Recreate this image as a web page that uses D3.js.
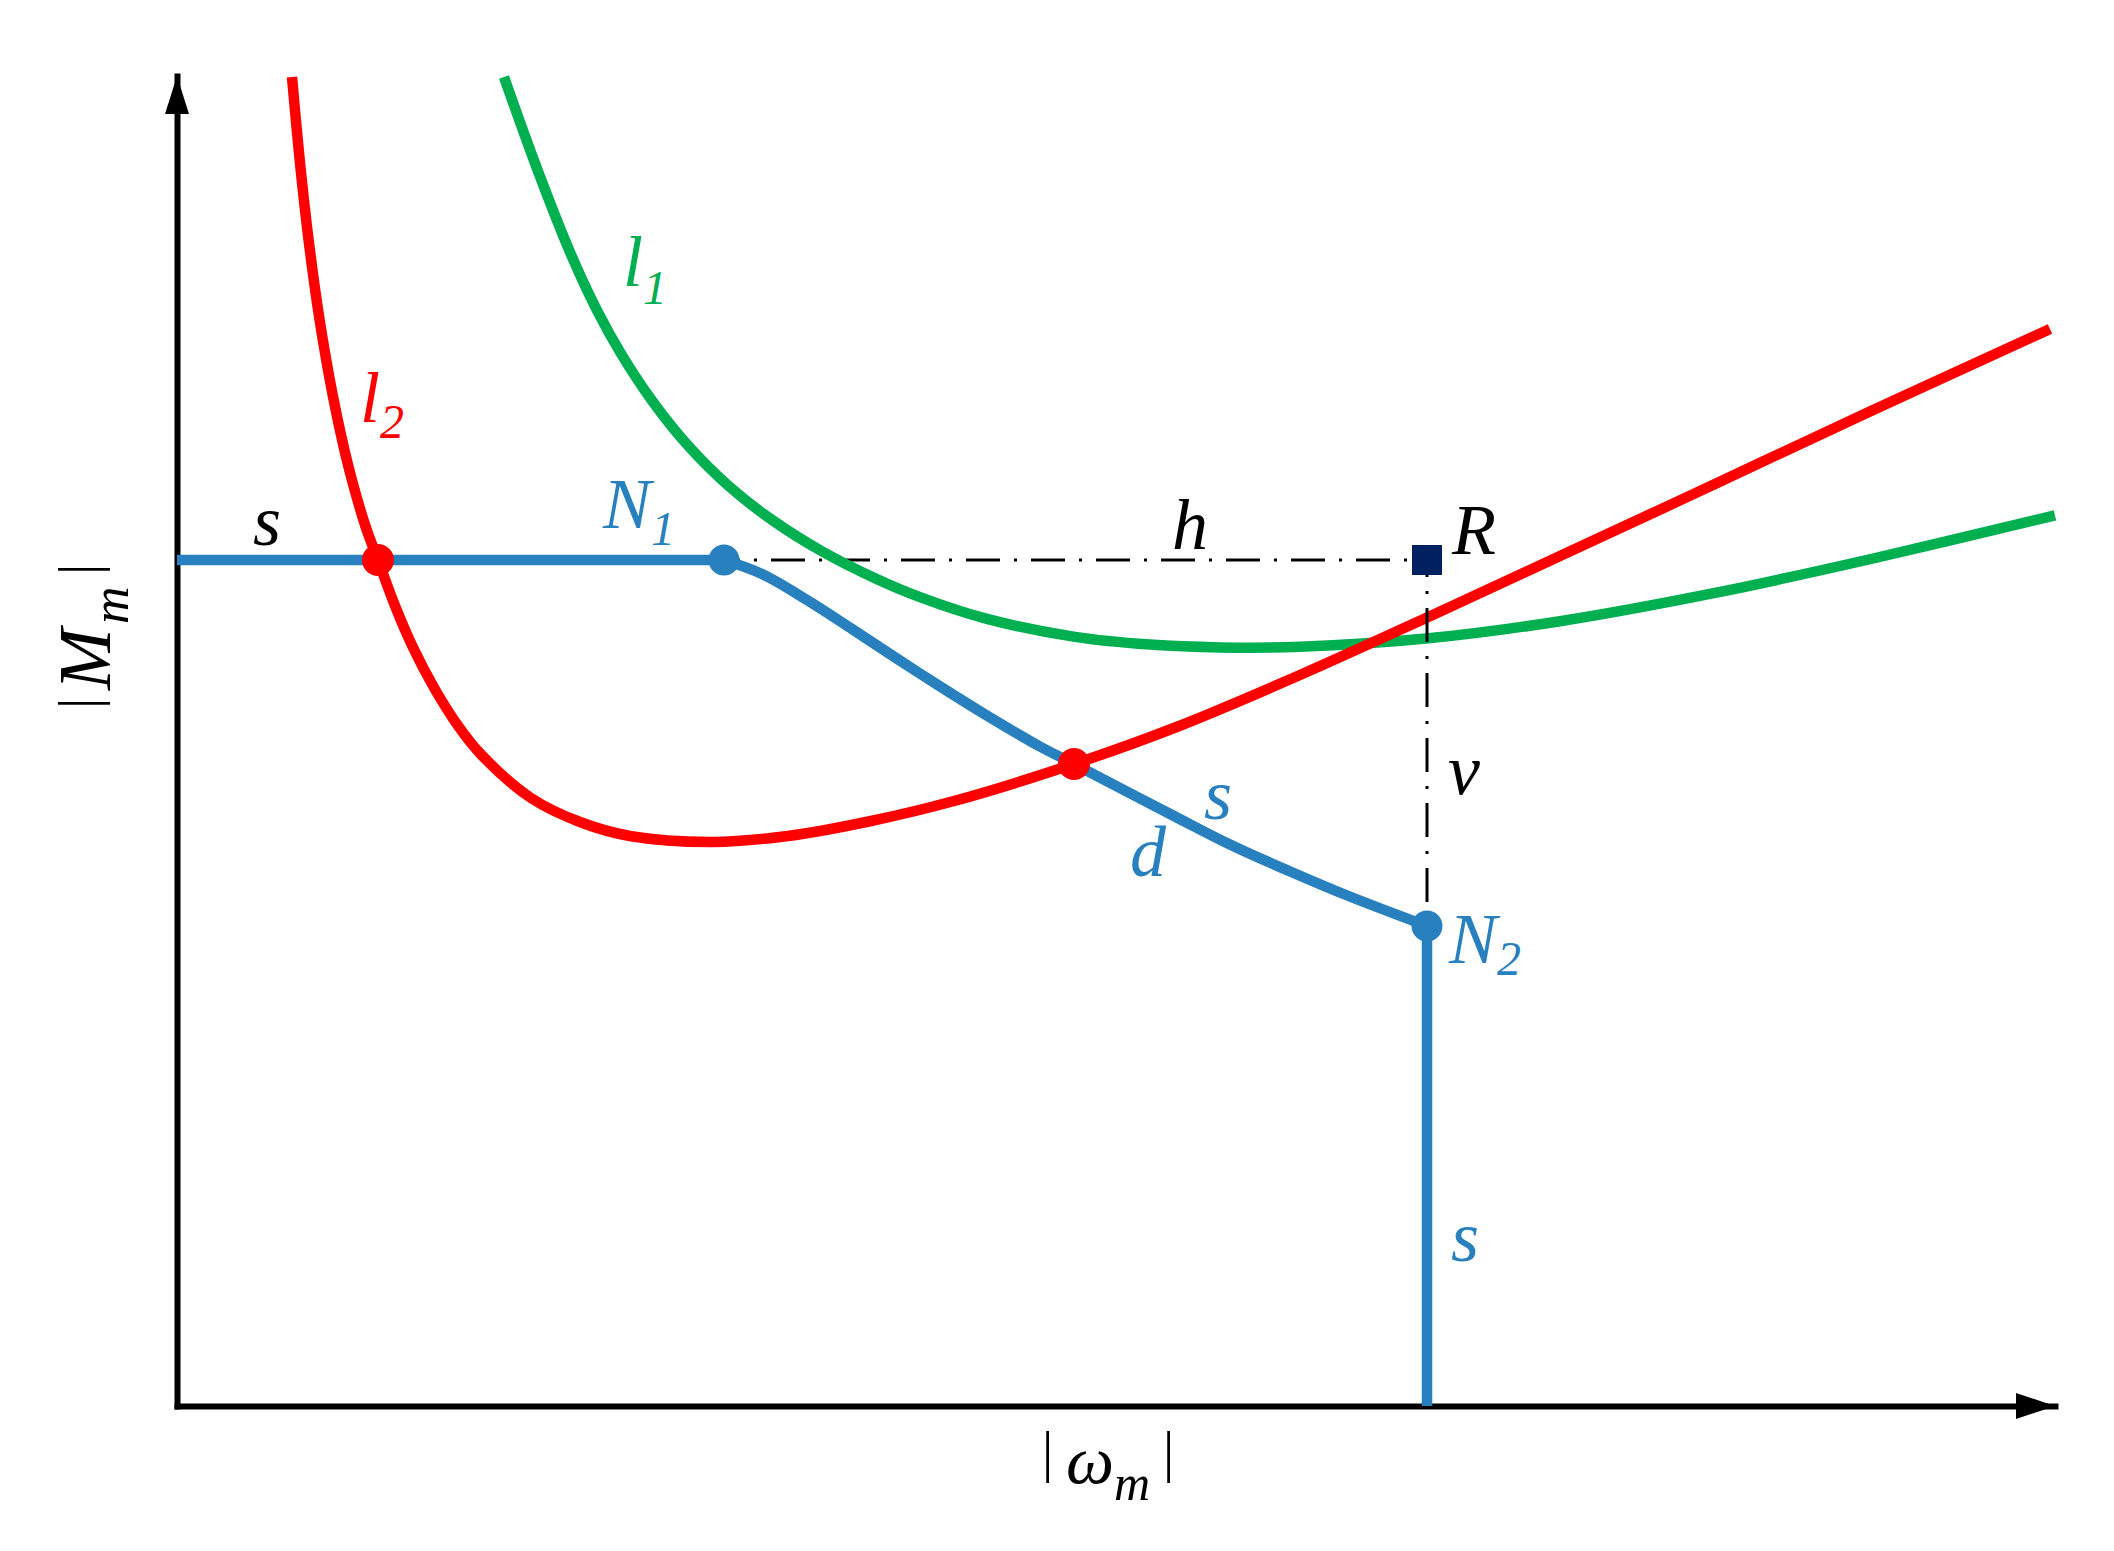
<!DOCTYPE html>
<html>
<head>
<meta charset="utf-8">
<script src="https://cdn.jsdelivr.net/npm/d3@7"></script>
<style>
  html, body { margin: 0; padding: 0; background: #ffffff; }
  svg { display: block; }
  .lbl { font-family: "Liberation Serif", "DejaVu Serif", serif; font-style: italic; }
</style>
</head>
<body>
<svg id="chart" width="2114" height="1551"></svg>
<script>
// ---------- data (arbitrary units: |ω_m| horizontal, |M_m| vertical) ----------
// Curve l2 (red)
const omegaL2  = [115, 122.3, 131.1, 142, 155.9, 171.3, 188.4, 201, 218.1, 235.3, 257.2, 281.2, 303.6, 354, 403, 453, 536, 611, 694, 777, 897, 997, 1123, 1249, 1383, 1538, 1694, 1873];
const torqueL2 = [1329, 1250, 1170, 1090, 1010, 940, 880, 846, 800, 760, 718, 680, 652, 608, 584, 570, 564, 570, 585, 605, 642, 678, 731, 788, 850, 922, 995, 1077];
// Curve l1 (green)
const omegaL1  = [327, 360, 394, 420, 444, 475, 511, 551, 595, 644, 698, 743, 809, 898, 973, 1043, 1123, 1249, 1383, 1538, 1694, 1878];
const torqueL1 = [1329, 1237.4, 1151.5, 1095.6, 1052.4, 1005.4, 960.4, 920.6, 886.1, 855.2, 827.7, 808.8, 787.3, 769.1, 761.4, 758.6, 759.2, 767.4, 784.8, 813.1, 847, 890.7];
// Path s (blue): horizontal part, curved part d, vertical part
const omegaSH  = [0, 547];
const torqueSH = [846, 846];
const omegaSD  = [547, 585, 630, 675, 719, 764, 809, 862, 897, 997, 1054, 1112, 1169, 1250];
const torqueSD = [846, 832, 806, 777, 748, 719, 691, 660, 642, 590, 561, 535, 511, 480];
const omegaSV  = [1250, 1250];
const torqueSV = [480, 0];
// Points
const redPoints  = [[201, 846], [897, 642]];
const bluePoints = [[547, 846], [1250, 480]];
const pointR     = [1250, 846];
// Dash-dot guides h (N1 -> R) and v (R -> N2)
const guideH = [[529, 846], [1250, 846]];
const guideV = [[1250, 846], [1250, 480]];
// Annotation labels [text, subscript, omega, torque, subscript shift, colour]
const labels = [
  ["s", "", 76, 861, 0, "#000000"],
  ["l", "2", 183, 984, 16, "#ff0000"],
  ["l", "1", 446, 1120, 18, "#00b050"],
  ["N", "1", 426, 878, 17, "#2980be"],
  ["h", "", 995, 857, 0, "#000000"],
  ["R", "", 1275, 852, 0, "#000000"],
  ["v", "", 1271, 612, 0, "#000000"],
  ["s", "", 1027, 587, 0, "#2980be"],
  ["d", "", 953, 530, 0, "#2980be"],
  ["N", "2", 1272, 443, 12, "#2980be"],
  ["s", "", 1274, 145, 0, "#2980be"]
];

// ---------- drawing ----------
const svg = d3.select("#chart");
svg.append("rect").attr("width", 2114).attr("height", 1551).attr("fill", "#ffffff");

const x = d3.scaleLinear().domain([0, 1878]).range([177, 2055]);
const y = d3.scaleLinear().domain([0, 1330]).range([1406, 76]);

const zip = (a, b) => a.map((v, i) => [v, b[i]]);
const smooth = d3.line().x(d => x(d[0])).y(d => y(d[1])).curve(d3.curveCatmullRom.alpha(0.5));
const straight = d3.line().x(d => x(d[0])).y(d => y(d[1]));

const RED = "#ff0000", GREEN = "#00b050", BLUE = "#2980be";
const LW = 10.5;

// axes
const axX = svg.append("g").attr("transform", `translate(0,${y(0)})`)
  .call(d3.axisBottom(x).tickValues([]).tickSizeOuter(0));
const axY = svg.append("g").attr("transform", `translate(${x(0)},0)`)
  .call(d3.axisLeft(y).tickValues([]).tickSizeOuter(0));
[axX, axY].forEach(g => g.select(".domain")
  .attr("stroke", "#000").attr("stroke-width", 6).attr("stroke-linecap", "square"));

// arrow heads
const xTip = x.range()[1], yTip = y.range()[1];
svg.append("polygon").attr("fill", "#000")
  .attr("points", `${xTip},${y(0)} ${xTip - 39},${y(0) - 13} ${xTip - 39},${y(0) + 13}`);
svg.append("polygon").attr("fill", "#000")
  .attr("points", `${x(0)},${yTip} ${x(0) - 12},${yTip + 38} ${x(0) + 12},${yTip + 38}`);

// horizontal dash-dot guide
svg.append("path").attr("d", straight(guideH)).attr("fill", "none")
  .attr("stroke", "#000").attr("stroke-width", 3).attr("stroke-dasharray", "34,14,3,14");

// curves
svg.append("path").attr("d", smooth(zip(omegaL1, torqueL1))).attr("fill", "none")
  .attr("stroke", GREEN).attr("stroke-width", LW);
svg.append("path").attr("d", smooth(zip(omegaL2, torqueL2))).attr("fill", "none")
  .attr("stroke", RED).attr("stroke-width", LW);

// blue path s
svg.append("path").attr("d", straight(zip(omegaSH, torqueSH))).attr("fill", "none")
  .attr("stroke", BLUE).attr("stroke-width", LW);
svg.append("path").attr("d", smooth(zip(omegaSD, torqueSD))).attr("fill", "none")
  .attr("stroke", BLUE).attr("stroke-width", LW).attr("stroke-linejoin", "round");
svg.append("path").attr("d", straight(zip(omegaSV, torqueSV))).attr("fill", "none")
  .attr("stroke", BLUE).attr("stroke-width", LW);

// vertical dash-dot guide
svg.append("path").attr("d", straight(guideV)).attr("fill", "none")
  .attr("stroke", "#000").attr("stroke-width", 3)
  .attr("stroke-dasharray", "34,14,3,14").attr("stroke-dashoffset", 17);

// points
svg.selectAll("circle.red").data(redPoints).join("circle").attr("class", "red")
  .attr("cx", d => x(d[0])).attr("cy", d => y(d[1])).attr("r", 16).attr("fill", RED);
svg.selectAll("circle.blue").data(bluePoints).join("circle").attr("class", "blue")
  .attr("cx", d => x(d[0])).attr("cy", d => y(d[1])).attr("r", 15.5).attr("fill", BLUE);
svg.append("rect").attr("x", x(pointR[0]) - 15).attr("y", y(pointR[1]) - 15)
  .attr("width", 30).attr("height", 30).attr("fill", "#002060");

// labels
labels.forEach(([t, sub, ox, oy, dy, col]) => {
  const tx = svg.append("text").attr("class", "lbl")
    .attr("x", x(ox)).attr("y", y(oy)).attr("fill", col).attr("font-size", 72).text(t);
  if (sub) tx.append("tspan").attr("font-size", 48).attr("dy", dy).text(sub);
});

// x-axis title |ω_m|
const xt = svg.append("text").attr("class", "lbl").attr("y", 1483).attr("fill", "#000");
xt.append("tspan").attr("x", 1042).attr("dy", -12).attr("font-size", 56).attr("font-style", "normal").text("|");
xt.append("tspan").attr("x", 1066).attr("dy", 12).attr("font-size", 68).text("ω");
xt.append("tspan").attr("x", 1114).attr("dy", 17).attr("font-size", 50).text("m");
xt.append("tspan").attr("x", 1163).attr("dy", -29).attr("font-size", 56).attr("font-style", "normal").text("|");

// y-axis title |M_m| (rotated)
const yt = svg.append("text").attr("class", "lbl").attr("transform", "translate(110,0) rotate(-90)").attr("fill", "#000");
yt.append("tspan").attr("x", -709).attr("y", 0).attr("dy", -12).attr("font-size", 56).attr("font-style", "normal").text("|");
yt.append("tspan").attr("x", -690).attr("dy", 12).attr("font-size", 74).text("M");
yt.append("tspan").attr("x", -624).attr("dy", 18).attr("font-size", 52).text("m");
yt.append("tspan").attr("x", -575).attr("dy", -30).attr("font-size", 56).attr("font-style", "normal").text("|");
</script>
</body>
</html>
